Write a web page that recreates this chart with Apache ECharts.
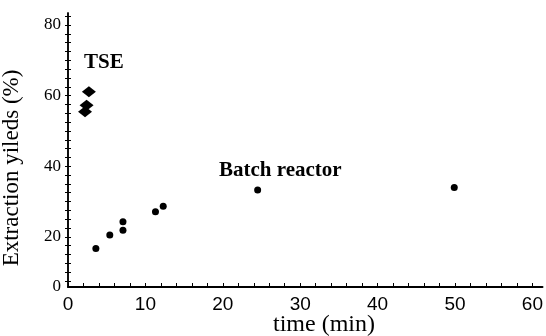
<!DOCTYPE html>
<html>
<head>
<meta charset="utf-8">
<script src="https://cdn.jsdelivr.net/npm/echarts@6/dist/echarts.min.js"></script>
<style>
  html, body { margin: 0; padding: 0; background: #fff; }
  #chart { width: 546px; height: 336px; }
</style>
</head>
<body>
<div id="chart"></div>
<script>
// TSE points (diamonds)
const tseTime = [2.7, 2.4, 2.2]
const tseYield = [61.1, 57.3, 55.4]
// batch reactor points (dots)
const batchTime = [3.6, 5.4, 7.1, 7.1, 11.3, 12.3, 24.5, 49.9]
const batchYield = [16.7, 20.5, 24.3, 21.9, 27.1, 28.7, 33.3, 34.0]

const xLabels = [0, 10, 20, 30, 40, 50, 60]
const yLabels = [20, 40, 60, 80]
// the scanned axis starts a bit above zero, corner is marked "0"
const yMin = 5.8
const yMax = 83.4
const xMin = 0
const xMax = 61.3

const xTicks = []
for (let v = 0; v <= 60; v += 2) xTicks.push(v)
const yTicks = []
for (let v = 7.5; v <= 82.5; v += 2.5) yTicks.push(v)

const serif = '"Liberation Serif", "DejaVu Serif", serif'
const sans = '"Liberation Sans", Arial, sans-serif'

const chart = echarts.init(document.getElementById('chart'))

const yAxisBase = {
  type: 'value',
  min: yMin,
  max: yMax,
  position: 'left',
  splitLine: { show: false },
  axisLine: { show: true, lineStyle: { color: '#000', width: 1.5 } }
}

chart.setOption({
  animation: false,
  grid: { left: 68, right: 1, top: 13, bottom: 49 },
  xAxis: {
    type: 'value',
    min: xMin,
    max: xMax,
    splitLine: { show: false },
    axisLine: { show: true, onZero: false, lineStyle: { color: '#000', width: 2 } },
    axisTick: { show: true, inside: true, length: 4, customValues: xTicks, lineStyle: { color: '#000' } },
    axisLabel: {
      customValues: xLabels,
      margin: 8,
      color: '#000',
      fontFamily: sans,
      fontSize: 19
    }
  },
  yAxis: [
    Object.assign({}, yAxisBase, {
      axisTick: { show: true, length: 3, customValues: yTicks, lineStyle: { color: '#000' } },
      axisLabel: {
        customValues: [yMin].concat(yLabels),
        margin: 7,
        color: '#000',
        fontFamily: serif,
        fontSize: 17,
        formatter: v => (v < 10 ? '0' : String(v))
      }
    }),
    Object.assign({}, yAxisBase, {
      axisTick: { show: true, inside: true, length: 3, customValues: yTicks, lineStyle: { color: '#000' } },
      axisLabel: { show: false }
    })
  ],
  graphic: [
    {
      type: 'text', left: 84, top: 52,
      style: { text: 'TSE', font: 'bold 21px ' + serif, fill: '#000' }
    },
    {
      type: 'text', left: 219, top: 160,
      style: { text: 'Batch reactor', font: 'bold 21px ' + serif, fill: '#000' }
    },
    {
      type: 'text', left: 273, top: 313,
      style: { text: 'time (min)', font: '24px ' + serif, fill: '#000' }
    },
    {
      type: 'text', x: 12, y: 168, rotation: Math.PI / 2,
      style: { text: 'Extraction yileds (%)', font: '23px ' + serif, fill: '#000', align: 'center', verticalAlign: 'middle' }
    }
  ],
  series: [
    {
      name: 'TSE',
      type: 'scatter',
      symbol: 'diamond',
      symbolSize: [14, 11],
      itemStyle: { color: '#000', opacity: 1 },
      data: tseTime.map((t, i) => [t, tseYield[i]])
    },
    {
      name: 'Batch reactor',
      type: 'scatter',
      symbol: 'circle',
      symbolSize: 7,
      itemStyle: { color: '#000', opacity: 1 },
      data: batchTime.map((t, i) => [t, batchYield[i]])
    }
  ]
})
</script>
</body>
</html>
